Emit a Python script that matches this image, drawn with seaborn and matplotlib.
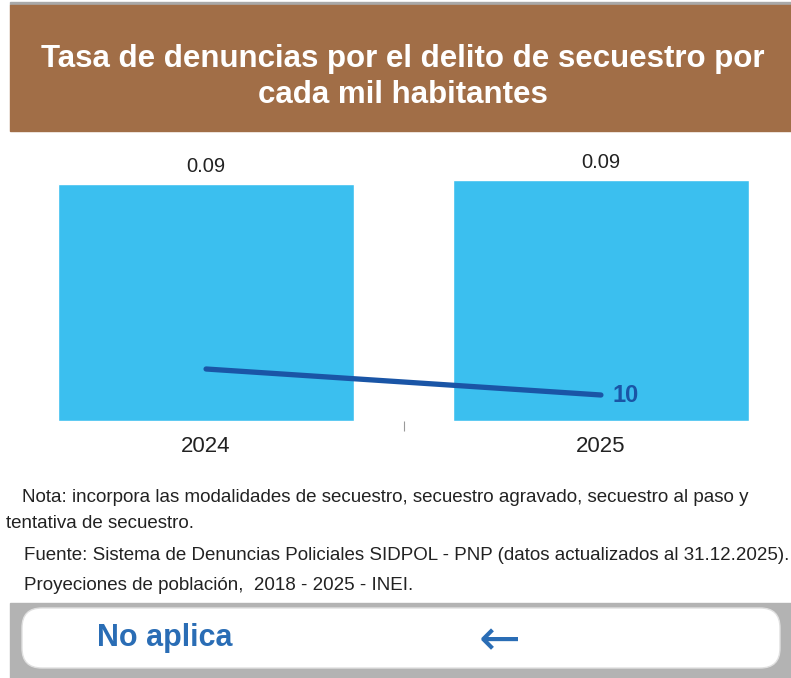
"""tasa de denuncias por secuestro - barras con linea secundaria."""

import matplotlib
matplotlib.use("Agg")
import matplotlib.pyplot as plt
from matplotlib.patches import FancyBboxPatch, Rectangle
import pandas as pd
import seaborn as sns

anios = ["2024", "2025"]
tasa = [0.0885, 0.0900]
tasa_etiquetas = ["0.09", "0.09"]
denuncias = [20, 10]

titulo = "Tasa de denuncias por el delito de secuestro por\ncada mil habitantes"
notas = [
    (0.028, 1 - 497 / 678, "Nota: incorpora las modalidades de secuestro, secuestro agravado, secuestro al paso y"),
    (0.008, 1 - 523 / 678, "tentativa de secuestro."),
    (0.030, 1 - 555 / 678, "Fuente: Sistema de Denuncias Policiales SIDPOL - PNP (datos actualizados al 31.12.2025)."),
    (0.030, 1 - 586 / 678, "Proyeciones de población,  2018 - 2025 - INEI."),
]

sns.set_theme(style="white")
plt.rcParams["font.family"] = ["Liberation Sans", "DejaVu Sans"]

df = pd.DataFrame({"anio": anios, "tasa": tasa, "denuncias": denuncias})

W, H = 791, 678
fig = plt.figure(figsize=(W / 100, H / 100), dpi=100)

# encabezado marron
fig.patches.append(Rectangle((10 / W, 1 - 5 / H), 1, 3 / H, transform=fig.transFigure,
                             color="#a9a9a9", zorder=0))
fig.patches.append(Rectangle((10 / W, 1 - 131 / H), 1, 126 / H, transform=fig.transFigure,
                             color="#a16e47", zorder=0))
fig.text(403 / W, 1 - 77 / H, titulo, ha="center", va="center", color="white",
         fontsize=22.5, fontweight="bold", linespacing=1.28)

# barras
ax = fig.add_axes([58 / W, 1 - 421 / H, (749 - 58) / W, 281 / H])
sns.barplot(data=df, x="anio", y="tasa", color="#3bbfef", saturation=1, width=0.75, ax=ax)
ax.set_xlim(-0.375, 1.375)
ax.set_ylim(0, 0.09 * 281 / 241)
for i, (v, lab) in enumerate(zip(tasa, tasa_etiquetas)):
    ax.text(i, v + 0.0030, lab, ha="center", va="bottom", fontsize=14.5, color="#222222")
ax.set_xlabel("")
ax.set_ylabel("")
ax.set_yticks([])
ax.set_xticks([0, 1])
ax.set_xticklabels(anios, fontsize=16, color="#222222")
ax.tick_params(axis="x", length=0, pad=11)
ax.set_xticks([0.5], minor=True)
ax.tick_params(axis="x", which="minor", length=7, width=0.8, color="#999999", bottom=True)
for s in ax.spines.values():
    s.set_visible(False)

# linea secundaria
ax2 = ax.twinx()
sns.lineplot(x=[0, 1], y=denuncias, color="#1a55a6", linewidth=3.8, ax=ax2,
             solid_capstyle="round")
ax2.set_ylim(0, 10 * 281 / 26)
ax2.set_xlim(-0.375, 1.375)
ax2.text(1.03, denuncias[1], str(denuncias[1]), ha="left", va="center",
         fontsize=17, fontweight="bold", color="#1a55a6")
ax2.set_yticks([])
ax2.set_ylabel("")
for s in ax2.spines.values():
    s.set_visible(False)

# notas
for x, y, t in notas:
    fig.text(x, y, t, ha="left", va="center", fontsize=13.5, color="#222222")

# pie con boton
fig.patches.append(Rectangle((10 / W, 0), 1, 75 / H, transform=fig.transFigure,
                             color="#b3b3b3", zorder=0))
fig.patches.append(FancyBboxPatch((22 / W, 10 / H), 758 / W, 60 / H, transform=fig.transFigure,
                                  boxstyle="round,pad=0,rounding_size=0.025",
                                  facecolor="white", edgecolor="#e0e0e0", zorder=1,
                                  mutation_aspect=W / H))
fig.text(97 / W, 1 - 638 / H, "No aplica", ha="left", va="center", fontsize=22,
         fontweight="bold", color="#2a6db5", zorder=2)
fig.text(500 / W, 1 - 641 / H, "\u2190", ha="center", va="center", fontsize=36,
         color="#2a6db5", zorder=2, family="DejaVu Sans")

fig.savefig("out.png", dpi=100)
